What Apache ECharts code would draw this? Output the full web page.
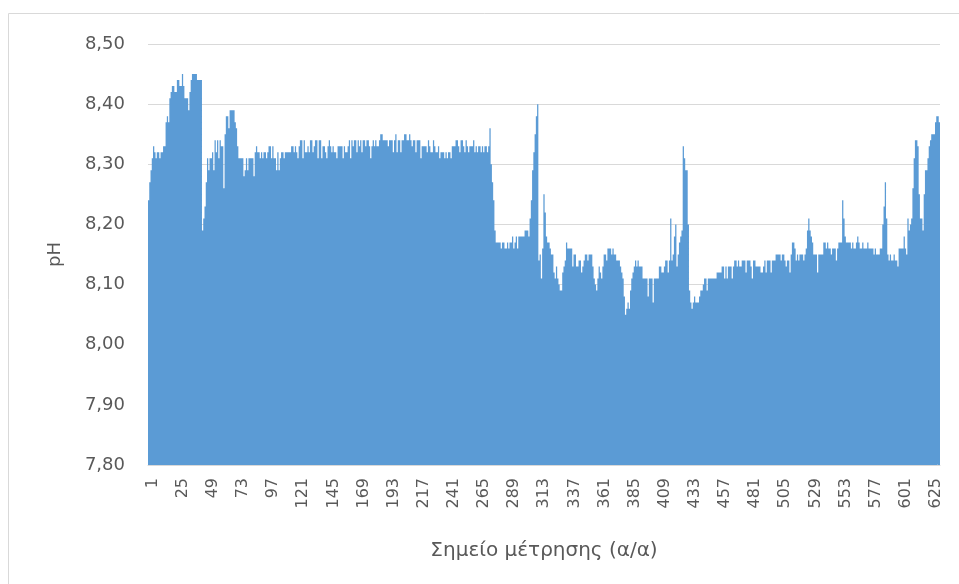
<!DOCTYPE html>
<html>
<head>
<meta charset="utf-8">
<script src="https://cdn.jsdelivr.net/npm/echarts@6/dist/echarts.min.js"></script>
<style>
  html, body { margin: 0; padding: 0; background: #fff; }
  #chart { width: 959px; height: 584px; }
</style>
</head>
<body>
<div id="chart"></div>
<script>
// pH ανά σημείο μέτρησης, διαβασμένο από την εικόνα σε τμήματα
let ph1 = [8.24,8.27,8.29,8.31,8.33,8.32,8.31,8.32,8.32,8.31,8.32,8.32,8.33,8.33,8.37,8.38,8.37,8.41,8.42,8.43,
    8.43,8.42,8.42,8.44,8.44,8.43,8.43,8.45,8.43,8.41,8.41,8.41,8.39,8.42,8.44,8.45,8.45,8.45,8.45,8.44,
    8.44,8.44,8.44,8.19,8.21,8.23,8.27,8.31,8.29,8.31,8.31,8.32,8.29,8.34,8.32,8.34,8.31,8.34,8.33,8.33,
    8.26,8.35,8.38,8.38,8.36,8.39,8.39,8.39,8.39,8.37,8.36,8.33,8.31,8.31,8.31,8.31,8.28,8.29,8.31,8.29];
let ph2 = [8.31,8.31,8.31,8.31,8.28,8.32,8.33,8.32,8.32,8.31,8.32,8.31,8.32,8.32,8.31,8.32,8.33,8.33,8.31,8.33,
    8.31,8.31,8.29,8.32,8.29,8.31,8.32,8.32,8.31,8.32,8.32,8.32,8.32,8.32,8.33,8.33,8.32,8.33,8.32,8.31,
    8.33,8.34,8.34,8.31,8.34,8.32,8.32,8.33,8.32,8.34,8.34,8.32,8.33,8.34,8.34,8.31,8.34,8.34,8.31,8.33,
    8.33,8.32,8.31,8.33,8.34,8.33,8.32,8.33,8.32,8.32,8.31,8.33,8.33,8.33,8.33,8.31,8.33,8.32,8.32,8.33];
let ph3 = [8.34,8.31,8.34,8.33,8.34,8.34,8.32,8.34,8.33,8.34,8.32,8.34,8.34,8.33,8.34,8.34,8.33,8.31,8.33,8.34,
    8.33,8.34,8.33,8.33,8.34,8.35,8.35,8.34,8.34,8.34,8.34,8.33,8.34,8.34,8.34,8.32,8.34,8.35,8.32,8.34,
    8.34,8.32,8.34,8.34,8.35,8.35,8.34,8.34,8.35,8.34,8.33,8.34,8.34,8.32,8.34,8.34,8.34,8.31,8.33,8.33,
    8.33,8.33,8.32,8.34,8.33,8.32,8.32,8.34,8.33,8.32,8.32,8.33,8.31,8.32,8.32,8.32,8.31,8.32,8.31,8.32];
let ph4 = [8.32,8.31,8.33,8.33,8.33,8.34,8.34,8.33,8.32,8.34,8.34,8.33,8.32,8.34,8.33,8.32,8.33,8.33,8.33,8.34,
    8.32,8.33,8.32,8.33,8.33,8.32,8.33,8.32,8.33,8.33,8.32,8.33,8.36,8.30,8.27,8.24,8.19,8.17,8.17,8.17,
    8.17,8.16,8.17,8.17,8.16,8.16,8.17,8.16,8.17,8.17,8.18,8.16,8.17,8.18,8.16,8.18,8.18,8.18,8.18,8.18,
    8.19,8.19,8.19,8.18,8.21,8.24,8.29,8.32,8.35,8.38,8.40,8.14,8.15,8.11,8.16,8.25,8.22,8.18,8.17,8.17];
let ph5 = [8.16,8.15,8.15,8.12,8.11,8.13,8.11,8.10,8.09,8.09,8.12,8.13,8.14,8.17,8.16,8.16,8.16,8.16,8.13,8.15,
    8.15,8.13,8.13,8.14,8.14,8.12,8.13,8.14,8.15,8.15,8.14,8.15,8.15,8.15,8.13,8.11,8.10,8.09,8.11,8.13,
    8.12,8.11,8.13,8.15,8.15,8.14,8.16,8.16,8.16,8.15,8.16,8.15,8.15,8.14,8.14,8.14,8.13,8.12,8.11,8.08,
    8.05,8.06,8.07,8.06,8.09,8.11,8.12,8.13,8.14,8.13,8.14,8.13,8.13,8.13,8.11,8.11,8.11,8.11,8.08,8.11];
let ph6 = [8.11,8.11,8.07,8.11,8.11,8.11,8.11,8.13,8.13,8.12,8.12,8.13,8.14,8.14,8.12,8.14,8.21,8.14,8.15,8.18,
    8.20,8.13,8.15,8.17,8.18,8.19,8.33,8.31,8.29,8.29,8.20,8.09,8.07,8.06,8.07,8.08,8.07,8.07,8.07,8.08,
    8.09,8.09,8.10,8.11,8.11,8.09,8.11,8.11,8.11,8.11,8.11,8.11,8.11,8.12,8.12,8.12,8.12,8.13,8.13,8.11,
    8.13,8.11,8.13,8.13,8.13,8.11,8.13,8.14,8.14,8.13,8.14,8.13,8.13,8.14,8.14,8.14,8.12,8.14,8.14,8.14];
let ph7 = [8.13,8.11,8.14,8.14,8.13,8.13,8.13,8.13,8.12,8.12,8.13,8.14,8.12,8.14,8.14,8.14,8.12,8.14,8.14,8.14,
    8.15,8.15,8.15,8.15,8.14,8.15,8.15,8.14,8.13,8.14,8.14,8.12,8.15,8.17,8.17,8.16,8.14,8.15,8.14,8.15,
    8.15,8.15,8.14,8.15,8.16,8.19,8.21,8.19,8.18,8.17,8.15,8.15,8.15,8.12,8.15,8.15,8.15,8.15,8.17,8.17,
    8.16,8.17,8.16,8.16,8.15,8.16,8.16,8.16,8.14,8.16,8.17,8.17,8.17,8.24,8.21,8.18,8.17,8.17,8.17,8.17];
let ph8 = [8.16,8.17,8.16,8.16,8.17,8.18,8.17,8.16,8.16,8.17,8.16,8.16,8.16,8.17,8.16,8.16,8.16,8.16,8.15,8.16,
    8.15,8.15,8.15,8.16,8.16,8.20,8.23,8.27,8.21,8.15,8.14,8.15,8.14,8.14,8.15,8.14,8.14,8.13,8.16,8.16,
    8.16,8.16,8.18,8.16,8.15,8.21,8.19,8.20,8.21,8.26,8.31,8.34,8.34,8.33,8.25,8.21,8.21,8.19,8.25,8.29,
    8.29,8.31,8.33,8.34,8.35,8.35,8.35,8.37,8.38,8.38,8.37];

let phValues = ph1.concat(ph2, ph3, ph4, ph5, ph6, ph7, ph8);
let points = [];
for (let i = 1; i <= phValues.length; i++) {
    points.push(String(i));
}

let myChart = echarts.init(document.getElementById('chart'));
let textColor = '#595959';
let fontFam = '"DejaVu Sans", sans-serif';
let option = {
    animation: false,
    textStyle: { fontFamily: fontFam },
    graphic: [{
        type: 'rect',
        shape: { x: 8.5, y: 13.5, width: 980, height: 600 },
        style: { fill: 'none', stroke: '#d9d9d9', lineWidth: 1 }
    }],
    grid: {
        left: 148,
        right: 19,
        top: 44,
        bottom: 119
    },
    xAxis: {
        type: 'category',
        data: points,
        name: 'Σημείο μέτρησης (α/α)',
        nameLocation: 'middle',
        nameGap: 76,
        nameTextStyle: { color: textColor, fontSize: 20, fontFamily: fontFam },
        axisLine: { lineStyle: { color: '#d9d9d9' } },
        axisTick: { show: false },
        axisLabel: {
            interval: 23,
            rotate: 90,
            margin: 13,
            verticalAlign: 'top',
            lineHeight: 8,
            color: textColor,
            fontSize: 16,
            fontFamily: fontFam
        }
    },
    yAxis: {
        type: 'value',
        min: 7.8,
        max: 8.5,
        interval: 0.1,
        name: 'pH',
        nameLocation: 'middle',
        nameGap: 84,
        nameTextStyle: { color: textColor, fontSize: 18, fontFamily: fontFam },
        axisLine: { show: false },
        axisTick: { show: false },
        splitLine: { lineStyle: { color: '#d9d9d9', width: 1 } },
        axisLabel: {
            margin: 23,
            color: textColor,
            fontSize: 18,
            fontFamily: fontFam,
            formatter: function (v) { return v.toFixed(2).replace('.', ','); }
        }
    },
    series: [{
        name: 'pH',
        type: 'bar',
        data: phValues,
        barCategoryGap: '0%',
        large: true,
        largeThreshold: 100,
        itemStyle: { color: '#5b9bd5' }
    }]
};
myChart.setOption(option);
</script>
</body>
</html>
